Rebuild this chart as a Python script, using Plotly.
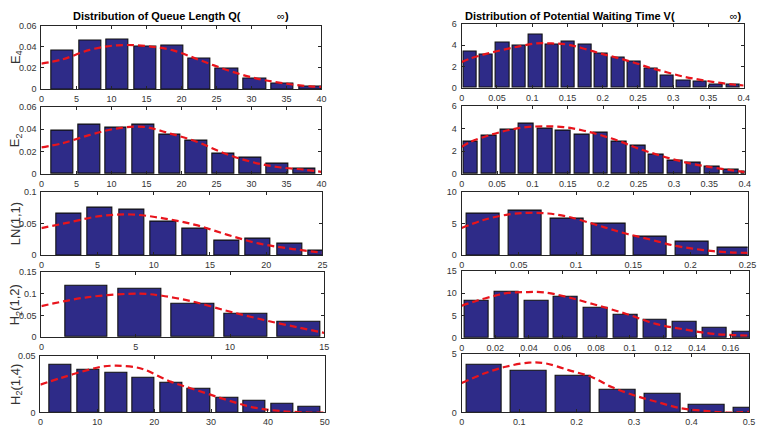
import plotly.graph_objects as go

# ---------------- data ----------------
# Left column: Distribution of Queue Length
q_e4_x = [3.0, 6.94, 10.85, 14.8, 18.7, 22.6, 26.5, 30.5, 34.4, 38.4]
q_e4_y = [0.0361, 0.0454, 0.0469, 0.0404, 0.0407, 0.0286, 0.0193, 0.0099, 0.0056, 0.0028]
q_e4_fit_x = [0, 3.0, 6.9, 10.8, 14.8, 18.7, 22.6, 26.5, 30.5, 34.4, 38.4, 40]
q_e4_fit_y = [0.024, 0.028, 0.037, 0.0413, 0.0407, 0.0367, 0.0274, 0.018, 0.0103, 0.0056, 0.0025, 0.002]

q_e2_x = [2.96, 6.83, 10.63, 14.55, 18.35, 22.18, 26.03, 29.89, 33.73, 37.58]
q_e2_y = [0.0389, 0.0441, 0.0415, 0.0441, 0.0355, 0.0300, 0.0179, 0.0147, 0.0095, 0.0046]
q_e2_fit_x = [0, 3.0, 6.8, 10.6, 14.6, 18.4, 22.2, 26.0, 29.9, 33.7, 37.6, 40]
q_e2_fit_y = [0.0237, 0.0274, 0.0346, 0.0404, 0.042, 0.036, 0.0288, 0.0188, 0.011, 0.0063, 0.0038, 0.002]

q_ln_x = [2.41, 5.21, 8.03, 10.85, 13.66, 16.5, 19.28, 22.1, 24.9]
q_ln_y = [0.0646, 0.0749, 0.0713, 0.0523, 0.0421, 0.0231, 0.0267, 0.0174, 0.0077]
q_ln_fit_x = [0, 2.4, 5.2, 8.0, 10.85, 13.7, 16.5, 19.3, 22.1, 25]
q_ln_fit_y = [0.0426, 0.0513, 0.0615, 0.064, 0.058, 0.0477, 0.0323, 0.0185, 0.0103, 0.004]

q_h12_x = [2.39, 5.21, 8.02, 10.84, 13.64]
q_h12_y = [0.1185, 0.110, 0.0758, 0.054, 0.0353]
q_h12_fit_x = [0, 2.4, 5.2, 6.4, 8.0, 9.7, 10.8, 12.0, 13.6, 15]
q_h12_fit_y = [0.0713, 0.0915, 0.0998, 0.095, 0.082, 0.062, 0.050, 0.0375, 0.0225, 0.0098]

q_h14_x = [3.53, 8.38, 13.3, 18.15, 23.0, 27.86, 32.8, 37.6, 42.5, 47.3]
q_h14_y = [0.0419, 0.0373, 0.035, 0.0309, 0.0263, 0.0211, 0.0133, 0.0104, 0.0078, 0.0046]
q_h14_fit_x = [0, 3.5, 8.4, 10.9, 13.3, 16.6, 18.2, 23.0, 27.9, 32.8, 37.6, 42.5, 47.3, 50]
q_h14_fit_y = [0.0246, 0.0303, 0.0376, 0.0405, 0.0413, 0.040, 0.038, 0.027, 0.019, 0.011, 0.0043, 0.0012, 0.0, 0.0]

# Right column: Distribution of Potential Waiting Time
v_e4_x = [0.0115, 0.0348, 0.0582, 0.0815, 0.1049, 0.1282, 0.1515, 0.1749, 0.1982,
          0.2216, 0.2449, 0.2682, 0.2916, 0.3149, 0.3383, 0.3616, 0.385]
v_e4_y = [3.36, 3.09, 4.21, 4.0, 4.94, 4.09, 4.36, 4.09, 3.21, 2.88, 2.42, 1.85, 1.18, 0.73, 0.61, 0.36, 0.30]
v_e4_fit_x = [0, 0.0113, 0.0347, 0.058, 0.0816, 0.105, 0.128, 0.152, 0.175, 0.199,
              0.222, 0.245, 0.269, 0.292, 0.315, 0.339, 0.362, 0.385, 0.4]
v_e4_fit_y = [2.42, 2.73, 3.18, 3.55, 3.88, 4.15, 4.15, 4.03, 3.64, 3.18,
              2.79, 2.36, 1.85, 1.45, 1.06, 0.76, 0.52, 0.33, 0.24]

v_e2_x = [0.0127, 0.0389, 0.0652, 0.0915, 0.1177, 0.144, 0.1703, 0.1965, 0.2228,
          0.2491, 0.2753, 0.3016, 0.3279, 0.3541, 0.3804, 0.4066]
v_e2_y = [2.88, 3.40, 3.92, 4.41, 4.01, 3.84, 3.49, 3.66, 2.80, 2.45, 1.70, 1.18, 1.01, 0.63, 0.40, 0.23]
v_e2_fit_x = [0, 0.0127, 0.0389, 0.0652, 0.0915, 0.118, 0.144, 0.170, 0.197,
              0.223, 0.249, 0.275, 0.302, 0.328, 0.354, 0.380, 0.4]
v_e2_fit_y = [2.39, 2.83, 3.40, 3.84, 4.12, 4.18, 4.12, 3.84, 3.40,
              2.88, 2.25, 1.73, 1.24, 0.87, 0.58, 0.35, 0.17]

v_ln_x = [0.019, 0.0555, 0.092, 0.1285, 0.165, 0.2015, 0.238]
v_ln_y = [6.56, 6.97, 5.69, 4.97, 2.97, 2.20, 1.18]
v_ln_fit_x = [0, 0.019, 0.0412, 0.0585, 0.0757, 0.093, 0.116, 0.130, 0.145, 0.165, 0.185, 0.202, 0.220, 0.2375, 0.25]
v_ln_fit_y = [4.26, 5.54, 6.41, 6.67, 6.56, 6.05, 4.87, 4.1, 3.33, 2.46, 1.54, 1.03, 0.62, 0.41, 0.36]

v_h12_x = [0.00905, 0.02673, 0.04441, 0.06209, 0.07977, 0.09745, 0.11513, 0.13281, 0.15049, 0.16817]
v_h12_y = [8.35, 10.27, 8.28, 9.16, 6.87, 5.17, 4.14, 3.55, 2.37, 1.40]
v_h12_fit_x = [0, 0.009, 0.02, 0.0267, 0.0395, 0.049, 0.062, 0.078, 0.098, 0.1155, 0.133, 0.150, 0.171]
v_h12_fit_y = [7.24, 8.35, 9.46, 10.05, 10.27, 10.2, 9.24, 7.61, 5.4, 3.18, 1.92, 0.96, 0.59]

v_h14_x = [0.0392, 0.1167, 0.1942, 0.2717, 0.3492, 0.4267, 0.5042]
v_h14_y = [4.05, 3.55, 3.09, 1.94, 1.59, 0.69, 0.38]
v_h14_fit_x = [0, 0.039, 0.0766, 0.117, 0.146, 0.186, 0.226, 0.261, 0.301, 0.342, 0.382, 0.422, 0.462, 0.5]
v_h14_fit_y = [2.51, 3.32, 3.9, 4.25, 4.19, 3.61, 3.03, 2.17, 1.45, 0.87, 0.35, 0.14, 0.0, 0.06]

y_labels = ["E<sub>4</sub>", "E<sub>2</sub>", "LN(1,1)", "H<sub>2</sub>(1,2)", "H<sub>2</sub>(1,4)"]
title_left = "<b>Distribution of Queue Length Q(" + "\u00a0" * 12 + "</b>\u221e<b>)</b>"
title_right = "<b>Distribution of Potential Waiting Time V(" + "\u00a0" * 18 + "</b>\u221e<b>)</b>"

# ---------------- layout config (pixels) ----------------
W, H = 762, 438
panels = [
    # bars x, bars y, fit x, fit y, x-px domain, y-px domain, x range, y range, x dtick, y dtick
    (q_e4_x, q_e4_y, q_e4_fit_x, q_e4_fit_y, (39, 323.5), (21, 86), (0, 40), (0, 0.06), 5, 0.02),
    (q_e2_x, q_e2_y, q_e2_fit_x, q_e2_fit_y, (39, 323.5), (104, 173), (0, 40), (0, 0.06), 5, 0.02),
    (q_ln_x, q_ln_y, q_ln_fit_x, q_ln_fit_y, (39, 324.5), (191, 256), (0, 25), (0, 0.1), 5, 0.05),
    (q_h12_x, q_h12_y, q_h12_fit_x, q_h12_fit_y, (39, 326.5), (273, 340), (0, 15), (0, 0.15), 5, 0.05),
    (q_h14_x, q_h14_y, q_h14_fit_x, q_h14_fit_y, (38, 327), (359, 417), (0, 50), (0, 0.05), 10, 0.05),
    (v_e4_x, v_e4_y, v_e4_fit_x, v_e4_fit_y, (466, 752.5), (19, 85), (0, 0.4), (0, 6), 0.05, 2),
    (v_e2_x, v_e2_y, v_e2_fit_x, v_e2_fit_y, (466, 753.5), (103, 173), (0, 0.4), (0, 6), 0.05, 2),
    (v_ln_x, v_ln_y, v_ln_fit_x, v_ln_fit_y, (466, 756.5), (191, 256), (0, 0.25), (0, 10), 0.05, 5),
    (v_h12_x, v_h12_y, v_h12_fit_x, v_h12_fit_y, (466, 758), (272, 341), (0, 0.171), (0, 15), 0.02, 5),
    (v_h14_x, v_h14_y, v_h14_fit_x, v_h14_fit_y, (466, 758), (357, 417), (0, 0.5), (0, 5), 0.1, 5),
]

BAR_COLOR = "#2e2b88"
FIT_COLOR = "#e8141c"
AXIS_COLOR = "#262626"
TICK_FONT = dict(family="Liberation Sans, Arial, sans-serif", size=9, color="#333333")

fig = go.Figure()
layout = dict(
    width=W, height=H,
    margin=dict(l=0, r=0, t=0, b=0),
    paper_bgcolor="white", plot_bgcolor="white",
    showlegend=False,
    font=dict(family="Liberation Sans, Arial, sans-serif"),
)
annotations = []

for i, (bx, by, fx, fy, xd, yd, xr, yr, xdt, ydt) in enumerate(panels, start=1):
    xa = "x" if i == 1 else f"x{i}"
    ya = "y" if i == 1 else f"y{i}"
    spacing = bx[1] - bx[0]
    fig.add_trace(go.Bar(
        x=bx, y=by, width=0.8 * spacing,
        marker=dict(color=BAR_COLOR, line=dict(color="#111111", width=1.1)),
        xaxis=xa, yaxis=ya, hoverinfo="skip",
    ))
    fig.add_trace(go.Scatter(
        x=fx, y=fy, mode="lines",
        line=dict(color=FIT_COLOR, width=2.2, dash="7px,4px", shape="spline", smoothing=1.0),
        xaxis=xa, yaxis=ya, hoverinfo="skip",
    ))
    common = dict(
        showline=True, linecolor=AXIS_COLOR, linewidth=1, mirror="ticks",
        ticks="inside", ticklen=3, tickcolor=AXIS_COLOR, tickwidth=1,
        showgrid=False, zeroline=False, tickfont=TICK_FONT, fixedrange=True,
    )
    xkey = "xaxis" if i == 1 else f"xaxis{i}"
    ykey = "yaxis" if i == 1 else f"yaxis{i}"
    layout[xkey] = dict(common, domain=[xd[0] / W, xd[1] / W], range=list(xr),
                        tick0=0, dtick=xdt, anchor=ya, ticklabelstandoff=1)
    layout[ykey] = dict(common, domain=[1 - yd[1] / H, 1 - yd[0] / H], range=list(yr),
                        tick0=0, dtick=ydt, anchor=xa, ticklabelstandoff=2)
    if i <= 5:
        annotations.append(dict(
            text=y_labels[i - 1], textangle=-90, showarrow=False,
            xref="paper", yref="paper", x=13 / W, y=1 - (yd[0] + yd[1]) / 2 / H,
            xanchor="center", yanchor="middle",
            font=dict(family="Liberation Sans, Arial, sans-serif", size=13, color="#333333"),
        ))

annotations.append(dict(
    text=title_left, showarrow=False, xref="paper", yref="paper",
    x=(39 + 323.5) / 2 / W, y=1 - 11 / H, xanchor="center", yanchor="middle",
    font=dict(family="Liberation Sans, Arial, sans-serif", size=11, color="#000000"),
))
annotations.append(dict(
    text=title_right, showarrow=False, xref="paper", yref="paper",
    x=(466 + 752.5) / 2 / W, y=1 - 11 / H, xanchor="center", yanchor="middle",
    font=dict(family="Liberation Sans, Arial, sans-serif", size=11, color="#000000"),
))
layout["annotations"] = annotations
layout["bargap"] = 0
fig.update_layout(**layout)

fig.write_html("out.html")
